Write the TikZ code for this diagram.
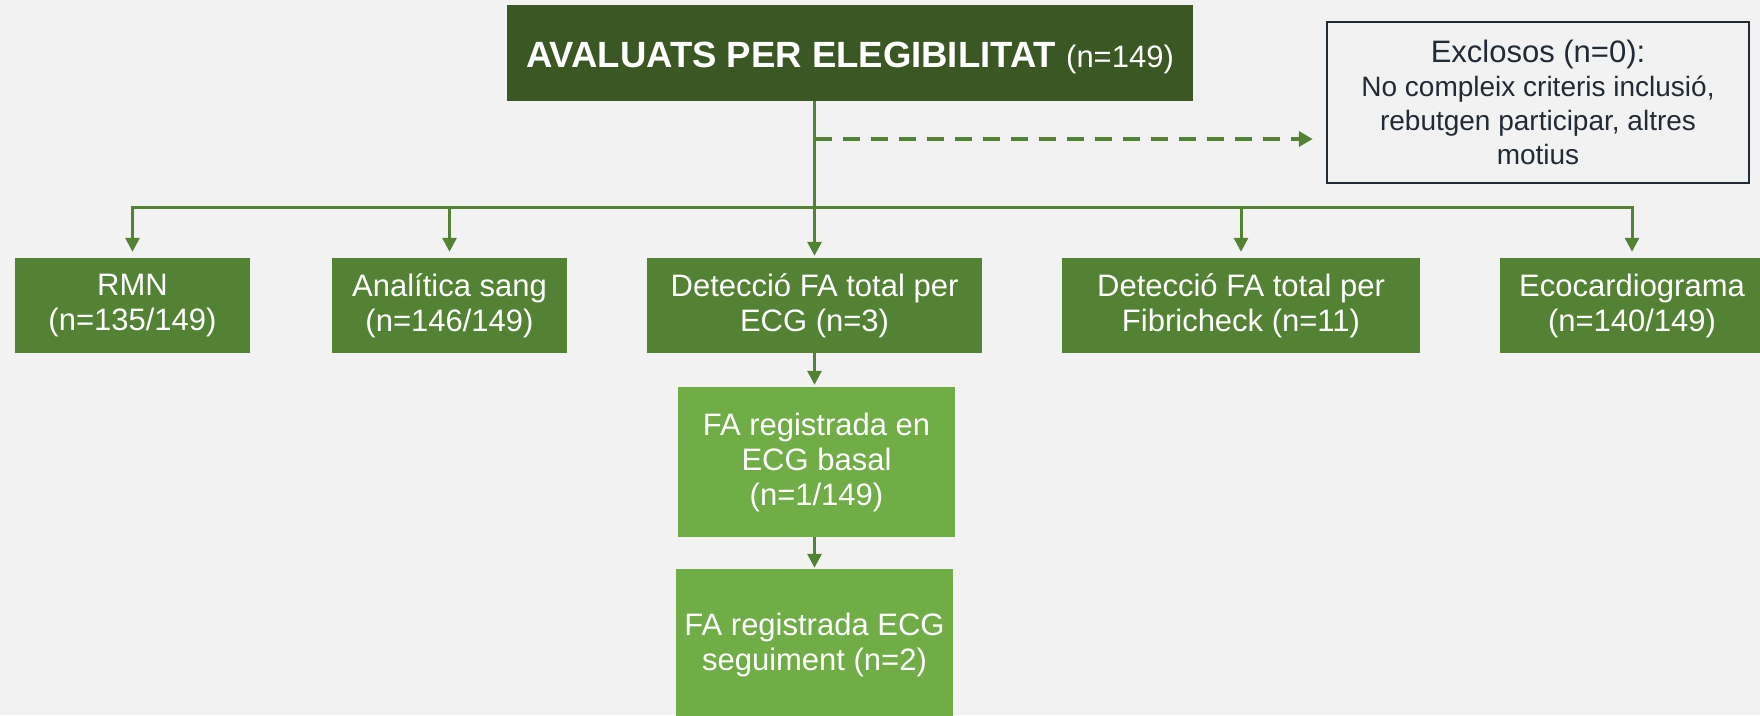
\documentclass[tikz,border=0pt]{standalone}
\usepackage{fontspec}
\setmainfont{Liberation Sans}
\usetikzlibrary{arrows.meta}
\definecolor{bgc}{HTML}{F2F2F2}
\definecolor{darkg}{HTML}{3A5724}
\definecolor{midg}{HTML}{548235}
\definecolor{lightg}{HTML}{70AD47}
\definecolor{slate}{HTML}{222A35}
\begin{document}
\begin{tikzpicture}[x=1pt,y=-1pt,
  rowbox/.style={fill=midg,text=white,align=center,inner sep=0pt,minimum height=95pt,font=\fontsize{31}{35}\selectfont},
  lowbox/.style={fill=lightg,text=white,align=center,inner sep=0pt,minimum width=277pt,font=\fontsize{31}{35}\selectfont},
  conn/.style={draw=midg,line width=3pt},
  arr/.style={conn,-{Triangle[width=14pt,length=14pt]}},
  dasharr/.style={draw=midg,line width=3.5pt,dash pattern=on 17pt off 11pt,-{Triangle[width=15pt,length=14pt]}}
]
\useasboundingbox (0,0) rectangle (1760,715);
\fill[bgc] (0,0) rectangle (1760,715);

\node[fill=darkg,inner sep=0pt,minimum width=686pt,minimum height=95.5pt] (top) at (850,52.75) {};
\node[text=white,inner sep=0pt,anchor=base] (toptext) at (850,67)
  {\fontsize{36.5}{40}\selectfont\bfseries AVALUATS PER ELEGIBILITAT \fontsize{31}{36}\selectfont\mdseries(n=149)};

\node[draw=slate,line width=2.5pt,text=slate,align=center,inner sep=0pt,minimum width=422pt,minimum height=161pt,font=\fontsize{28}{34}\selectfont] (excl) at (1538,102.5)
  {{\fontsize{31}{34}\selectfont Exclosos (n=0):}\\No compleix criteris inclusió,\\rebutgen participar, altres\\motius};

\node[rowbox,minimum width=235pt] (rmn) at (132.5,305.5) {RMN\\(n=135/149)};
\node[rowbox,minimum width=235pt] (ana) at (449.5,305.5) {Analítica sang\\(n=146/149)};
\node[rowbox,minimum width=335pt] (ecg) at (814.5,305.5) {Detecció FA total per\\ECG (n=3)};
\node[rowbox,minimum width=358pt] (fib) at (1241,305.5) {Detecció FA total per\\Fibricheck (n=11)};
\node[rowbox,minimum width=264pt] (eco) at (1632,305.5) {Ecocardiograma\\(n=140/149)};

\node[lowbox,minimum height=150pt] (basal) at (816.5,462) {FA registrada en\\ECG basal\\(n=1/149)};
\node[lowbox,minimum height=152pt] (seg) at (814.5,645) {FA registrada ECG\\seguiment (n=2)};

\coordinate (bus) at (0,207.7);
\coordinate (dstart) at (814.5,139);

\draw[arr,shorten >=2pt] (top.south -| ecg.north) -- (ecg.north);
\draw[conn] ([xshift=-1.5pt]rmn.north |- bus) -- ([xshift=1.5pt]eco.north |- bus);
\draw[arr,shorten >=6pt] (rmn.north |- bus) -- (rmn.north);
\draw[arr,shorten >=6pt] (ana.north |- bus) -- (ana.north);
\draw[arr,shorten >=6pt] (fib.north |- bus) -- (fib.north);
\draw[arr,shorten >=6pt] (eco.north |- bus) -- (eco.north);
\draw[dasharr,shorten >=13pt] (dstart) -- (excl.west |- dstart);

\draw[arr,shorten >=2pt] (ecg.south) -- (ecg.south |- basal.north);
\draw[arr,shorten >=1pt] (basal.south -| ecg.south) -- (seg.north -| ecg.south);
\end{tikzpicture}
\end{document}
